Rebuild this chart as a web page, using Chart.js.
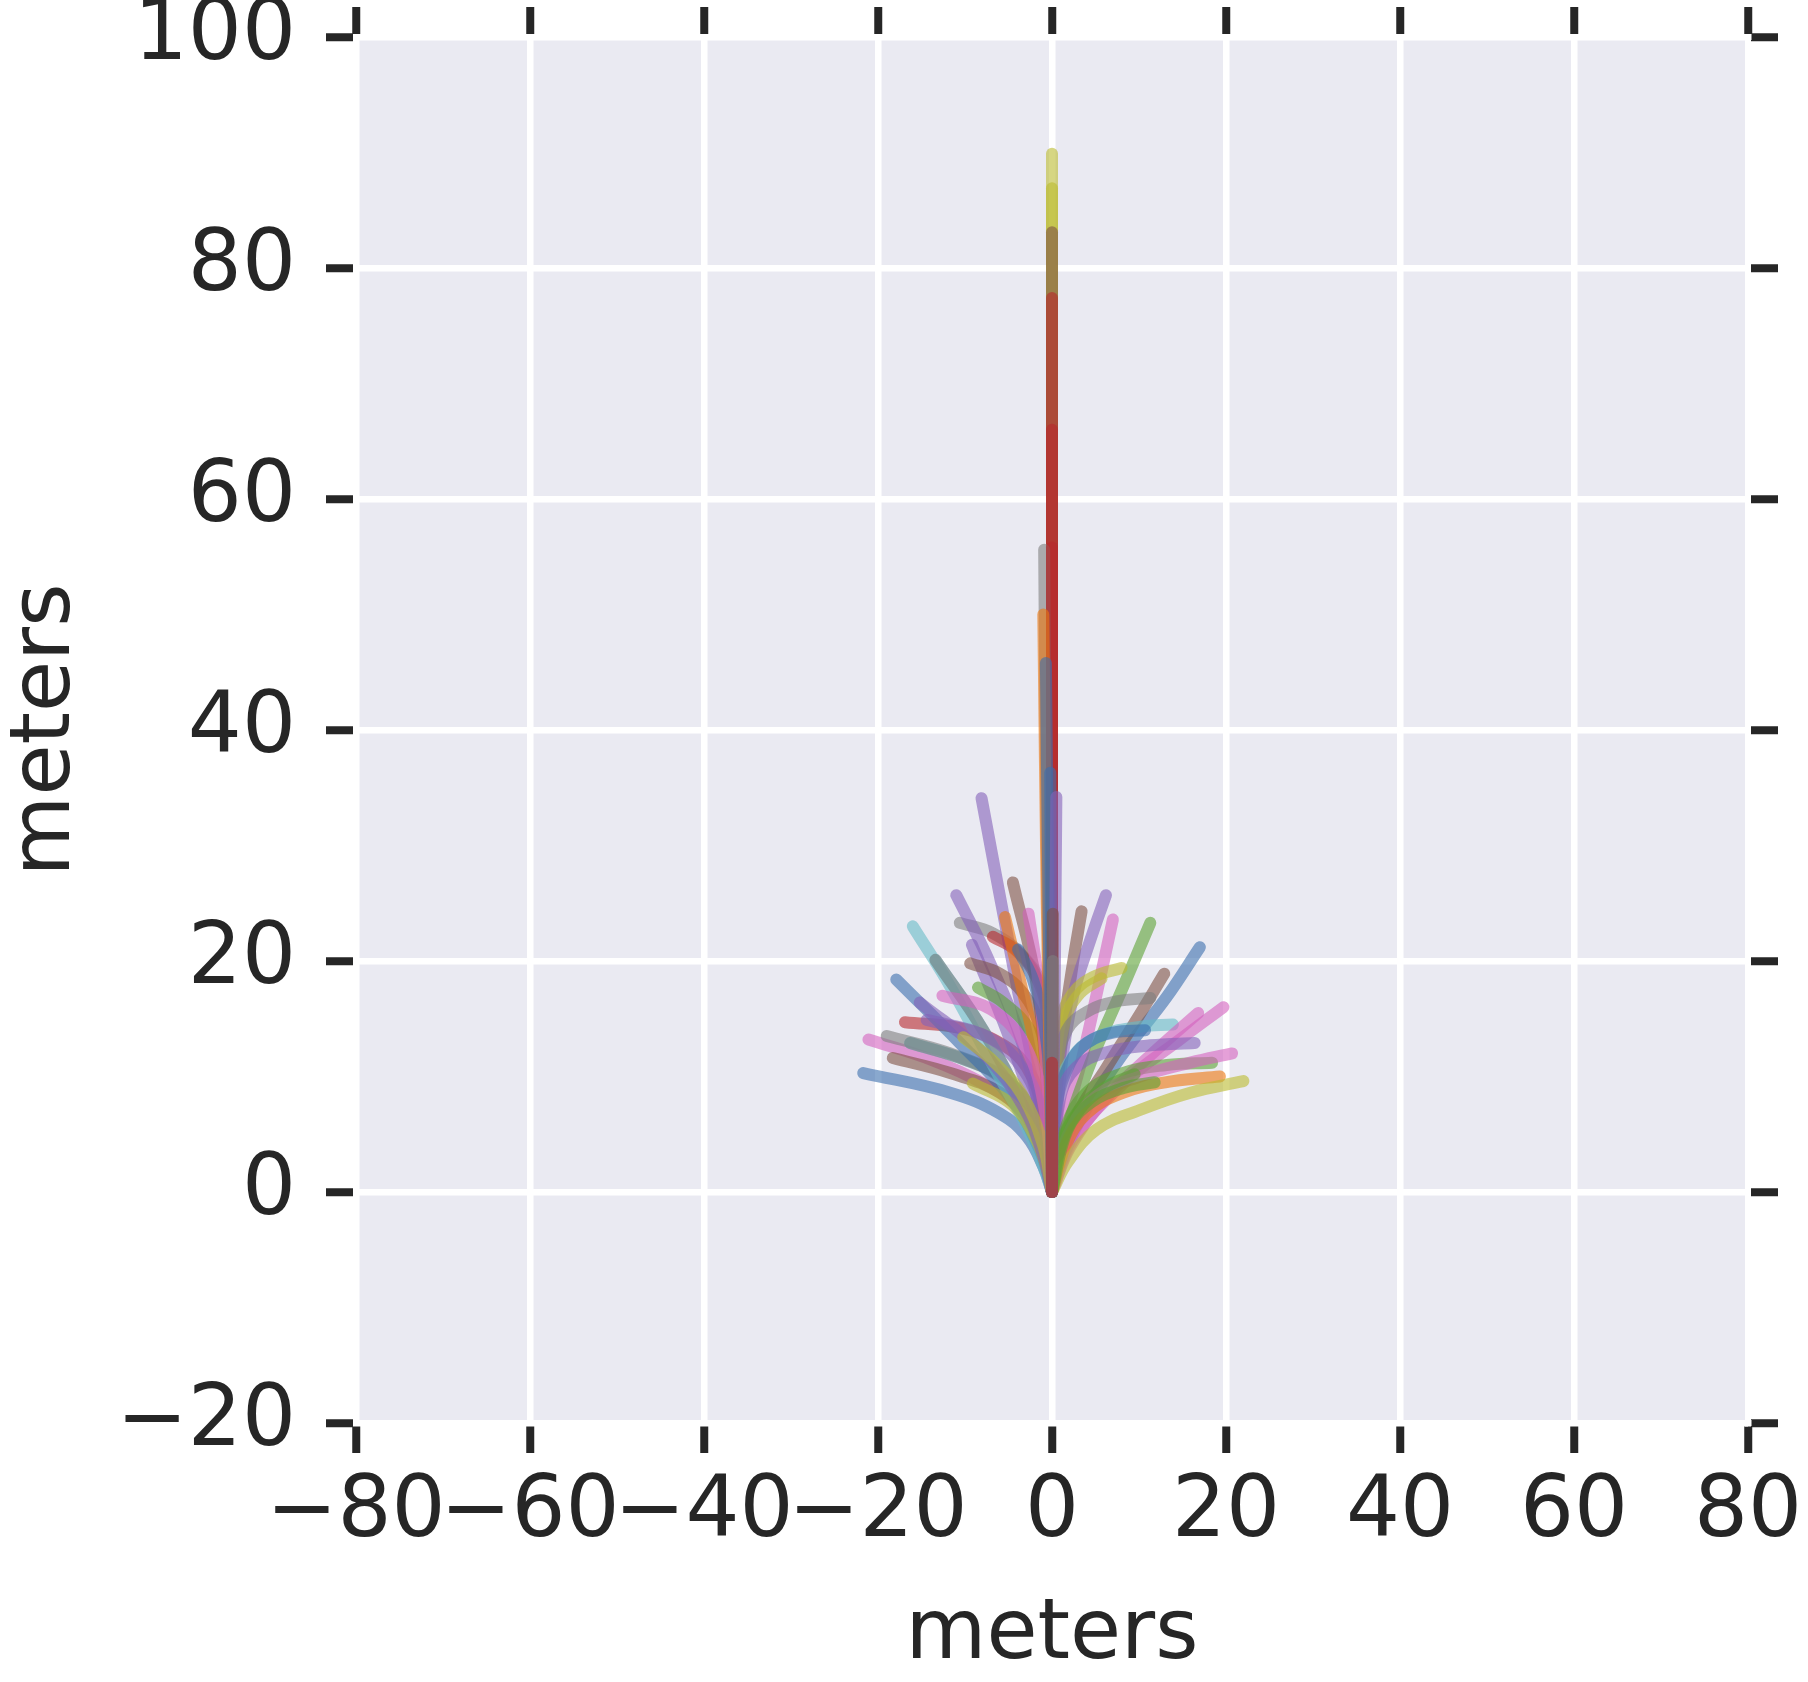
<!DOCTYPE html>
<html>
<head>
<meta charset="utf-8">
<script src="https://cdn.jsdelivr.net/npm/chart.js@4.4.0/dist/chart.umd.min.js"></script>
<style>
	html, body { margin: 0; padding: 0; background: #fff; }
</style>
</head>
<body>
<canvas id="grafico" width="1808" height="1682"></canvas>
<script>
// ticks
var xTicks = [-80, -60, -40, -20, 0, 20, 40, 60, 80];
var yTicks = [-20, 0, 20, 40, 60, 80, 100];

// colores (se dibujan con alfa 0.6)
var palette = {
	blue: '#3A6EAE', orange: '#EC770E', green: '#5BA134', red: '#B8282D', purple: '#8361B9',
	brown: '#7F5245', pink: '#D460BE', gray: '#7F7F7F', olive: '#BABA2F', cyan: '#66BAC7'
};

// tracks bending to the left, [x, y] in meters
var leftTracks = [
	[[0, 0], [-1, 2.2], [-2.9, 4.8], [-6, 6.8], [-11.7, 8.6], [-21.7, 10.3]],
	[[0, 0], [-1.4, 3.9], [-4, 7.4], [-7.9, 9.4], [-13.7, 11.4], [-21.1, 13.2]],
	[[0, 0], [-0.8, 3.4], [-2.5, 7.1], [-6, 10], [-11.7, 12], [-19, 13.5]],
	[[0, 0], [-0.8, 2.8], [-2.5, 6], [-6, 8.6], [-11.7, 10.3], [-18.3, 11.6]],
	[[0, 0], [-0.6, 3.1], [-2.2, 6.8], [-5.2, 9.7], [-9.8, 11.4], [-16.3, 12.9]],
	[[0, 0], [-0.6, 3.1], [-2.2, 6.8], [-5.2, 9.7], [-9.8, 11.4], [-16.3, 12.9]],
	[[0, 0], [-1, 6.8], [-2.9, 10.8], [-6, 12.9], [-10.6, 14.2], [-16.9, 14.7]],
	[[0, 0], [-1.4, 3.6], [-4.8, 8.2], [-10.6, 12.9], [-17.9, 18.4]],
	[[0, 0], [-1, 2.2], [-3.3, 6.2], [-7.1, 11.4], [-11.7, 17.8], [-16, 23]],
	[[0, 0], [-1, 3.1], [-3.3, 7.4], [-7.9, 14], [-13.4, 20.1]],
	[[0, 0], [-1, 3.1], [-3.3, 7.4], [-7.9, 14], [-13.4, 20.1]],
	[[0, 0], [-0.2, 12.6], [-1, 17.5], [-3.3, 20.4], [-6.8, 22.4], [-10.6, 23.3]],
	[[0, 0], [-1, 5.4], [-3.3, 12.6], [-7.1, 19.8], [-11, 25.7]],
	[[0, 0], [-1.8, 9.4], [-4.1, 18.1], [-8.1, 34.1]],
	[[0, 0], [-0.3, 8], [-0.6, 15.5], [-1.8, 18.6], [-4.1, 20.9], [-6.8, 22.1]],
	[[0, 0], [-1, 3.9], [-2.9, 9.1], [-6, 15.5], [-9.2, 21.4]],
	[[0, 0], [-0.3, 9.9], [-1.4, 14.3], [-3.3, 17.2], [-6, 18.9], [-9.4, 19.8]],
	[[0, 0], [-0.2, 5], [-0.7, 10.4], [-2.5, 14], [-5.6, 16.4], [-8.5, 17.7]],
	[[0, 0], [-0.6, 9.4], [-1.8, 18.1], [-4.5, 26.8]],
	[[0, 0], [-0.7, 5.5], [-1.8, 12], [-3.7, 18.4], [-5.4, 23.8]],
	[[0, 0], [-0.3, 6], [-0.7, 11.2], [-1.6, 18.4], [-2.7, 24.1]],
	[[0, 0], [-0.2, 8.3], [-0.8, 14.1], [-2.2, 18.4], [-3.9, 21]],
	[[0, 0], [-0.5, 1.8], [-1.8, 4.5], [-4.5, 7.5], [-9.1, 9.4]],
	[[0, 0], [-1, 3.1], [-3.3, 7.4], [-7.9, 12], [-15.2, 16.4]],
	[[0, 0], [-1.4, 7.4], [-4.1, 11.4], [-7.9, 13.6], [-14.4, 14.9]],
	[[0, 0], [-0.8, 7], [-3, 12.5], [-7, 15.8], [-12.6, 17]],
	[[0, 0], [-1, 4], [-3.5, 8.5], [-7, 11.5], [-10.2, 13.4]]
];
var leftColors = ['blue', 'pink', 'gray', 'brown', 'cyan', 'gray', 'red', 'blue', 'cyan', 'cyan', 'gray',
	'gray', 'purple', 'purple', 'red', 'purple', 'brown', 'green', 'brown', 'orange', 'pink', 'blue',
	'olive', 'purple', 'purple', 'pink', 'olive'];

// tracks bending to the right
var rightTracks = [
	[[0, 0], [0.3, 6.8], [1.3, 14], [2.4, 19.8], [3.4, 24.3]],
	[[0, 0], [0.9, 9.7], [2.4, 16.9], [4.4, 21.8], [6.2, 25.7]],
	[[0, 0], [1.3, 5.4], [3.6, 12], [5.5, 18.4], [7, 23.6]],
	[[0, 0], [1.7, 5.4], [4.7, 11.7], [8.2, 17.8], [11.3, 23.3]],
	[[0, 0], [0.5, 1.5], [3.2, 6.2], [8.2, 12], [13.2, 16.9], [17, 21.2]],
	[[0, 0], [0.3, 9.3], [0.9, 14.6], [2.4, 17.2], [4.7, 18.6], [8, 19.4]],
	[[0, 0], [0.4, 9], [1.5, 14.9], [3.2, 17.2], [5.7, 18.5]],
	[[0, 0], [2.4, 6], [6.3, 10.8], [9.7, 14.9], [12.9, 18.9]],
	[[0, 0], [0.5, 10.4], [1.7, 14], [4, 15.6], [7.4, 16.5], [11.3, 16.8]],
	[[0, 0], [0.5, 8], [2.4, 11.7], [5.5, 13.5], [10.1, 14.3], [13.9, 14.5]],
	[[0, 0], [0.5, 7.4], [2.1, 11.2], [4, 12.9], [7, 13.8], [10.7, 14]],
	[[0, 0], [2.1, 3.9], [6.3, 8.2], [12, 12.3], [16.8, 15.5]],
	[[0, 0], [2.4, 4.5], [8.2, 9.4], [14.7, 13.2], [19.7, 16]],
	[[0, 0], [0.9, 8], [2.8, 10.8], [6.3, 12.1], [11.3, 12.7], [16.4, 12.9]],
	[[0, 0], [1.5, 5.4], [4, 8.6], [8.2, 10.3], [13.2, 11], [18.4, 11.2]],
	[[0, 0], [1.8, 4.9], [5.1, 8.3], [10.1, 10], [15.9, 11.2], [20.7, 12]],
	[[0, 0], [1.5, 3.9], [4, 6.8], [8.2, 8.6], [13.9, 9.6], [19.3, 10]],
	[[0, 0], [1.8, 2.6], [5.1, 5.4], [10.1, 7.1], [15.9, 8.6], [22, 9.6]],
	[[0, 0], [1.8, 5.4], [4.4, 7.7], [8.2, 9], [11.8, 9.5]],
	[[0, 0], [1, 4], [3, 7], [6, 9], [9.5, 10.2]]
];
var rightColors = ['brown', 'purple', 'pink', 'green', 'blue', 'olive', 'olive', 'brown', 'gray', 'cyan',
	'blue', 'pink', 'pink', 'purple', 'green', 'pink', 'orange', 'olive', 'green', 'green'];

// tracks going straight ahead
var upTracks = [
	[[0, 0], [0, 45], [0, 89.9]],
	[[0, 0], [0, 86.9]],
	[[0, 0], [0, 83.1]],
	[[0, 0], [0, 77.4]],
	[[0, 0], [0, 66]],
	[[0, 0], [-0.6, 30], [-0.9, 55.6]],
	[[0, 0], [0, 55.8]],
	[[0, 0], [-0.6, 25], [-1, 50]],
	[[0, 0], [-0.4, 25], [-0.7, 45.8]],
	[[0, 0], [-0.2, 36.3]],
	[[0, 0], [0.3, 17], [0.5, 34.2]],
	[[0, 0], [0.1, 24.1]],
	[[0, 0], [0.1, 20]],
	[[0, 0], [0, 11.2]]
];
var upColors = ['olive', 'olive', 'brown', 'red', 'red', 'gray', 'red', 'orange', 'blue', 'blue',
	'purple', 'brown', 'gray', 'red'];

function armarDataset(track, color) {
	return {
		data: track.map(function (p) { return { x: p[0], y: p[1] }; }),
		showLine: true,
		borderColor: palette[color] + '99',
		borderWidth: 12,
		borderCapStyle: 'round',
		borderJoinStyle: 'round',
		pointRadius: 0,
		pointHoverRadius: 0,
		tension: 0.4,
		fill: false
	};
}

var datasets = [];
leftTracks.forEach(function (t, i) { datasets.push(armarDataset(t, leftColors[i])); });
rightTracks.forEach(function (t, i) { datasets.push(armarDataset(t, rightColors[i])); });
upTracks.forEach(function (t, i) { datasets.push(armarDataset(t, upColors[i])); });
// Chart.js pinta el primer dataset encima: invertir para que el último quede arriba
datasets.reverse();

function etiqueta(v) {
	return v < 0 ? '\u2212' + Math.abs(v) : String(v);
}

var fuenteTicks = { family: 'DejaVu Sans', size: 85 };
var fuenteTitulo = { family: 'DejaVu Sans', size: 83, lineHeight: 1 };
var texto = '#262626';

function rejilla(enArea) {
	return { color: '#fff', lineWidth: 6.5, drawOnChartArea: enArea, tickColor: texto, tickWidth: 8, tickLength: 30 };
}
var borde = { color: '#fff', width: 6 };

var fondo = {
	id: 'fondo',
	beforeDraw: function (chart) {
		var ctx = chart.ctx, a = chart.chartArea;
		ctx.save();
		ctx.fillStyle = '#fff';
		ctx.fillRect(0, 0, chart.width, chart.height);
		ctx.fillStyle = '#EAEAF2';
		ctx.fillRect(a.left, a.top, a.right - a.left, a.bottom - a.top);
		ctx.restore();
	}
};

var contexto = document.getElementById('grafico').getContext('2d');
var grafico = new Chart(contexto, {
	type: 'scatter',
	data: { datasets: datasets },
	plugins: [fondo],
	options: {
		responsive: false,
		animation: false,
		events: [],
		layout: { padding: 0 },
		plugins: { legend: { display: false }, tooltip: { enabled: false } },
		scales: {
			x: {
				type: 'linear', position: 'bottom', min: -80, max: 80,
				afterBuildTicks: function (s) { s.ticks = xTicks.map(function (v) { return { value: v }; }); },
				afterFit: function (s) { s.height = 259; s.paddingLeft = 0; s.paddingRight = 0; },
				ticks: { autoSkip: false, maxRotation: 0, minRotation: 0, font: fuenteTicks, color: texto, padding: 10, callback: etiqueta },
				grid: rejilla(true), border: borde,
				title: { display: true, text: 'meters', font: fuenteTitulo, color: texto, padding: { top: 0, bottom: 4 } }
			},
			y: {
				type: 'linear', position: 'left', min: -20, max: 100,
				afterBuildTicks: function (s) { s.ticks = yTicks.map(function (v) { return { value: v }; }); },
				afterFit: function (s) { s.width = 356; s.paddingTop = 0; s.paddingBottom = 0; },
				ticks: { autoSkip: false, font: fuenteTicks, color: texto, padding: 30, callback: etiqueta },
				grid: rejilla(true), border: borde,
				title: { display: true, text: 'meters', font: fuenteTitulo, color: texto, padding: { top: 6, bottom: 0 } }
			},
			x2: {
				type: 'linear', position: 'top', min: -80, max: 80,
				afterBuildTicks: function (s) { s.ticks = xTicks.map(function (v) { return { value: v }; }); },
				afterFit: function (s) { s.height = 37; s.paddingLeft = 0; s.paddingRight = 0; },
				ticks: { display: false },
				grid: rejilla(false), border: borde
			},
			y2: {
				type: 'linear', position: 'right', min: -20, max: 100,
				afterBuildTicks: function (s) { s.ticks = yTicks.map(function (v) { return { value: v }; }); },
				afterFit: function (s) { s.width = 60; s.paddingTop = 0; s.paddingBottom = 0; },
				ticks: { display: false },
				grid: rejilla(false), border: borde
			}
		}
	}
});
</script>
</body>
</html>
